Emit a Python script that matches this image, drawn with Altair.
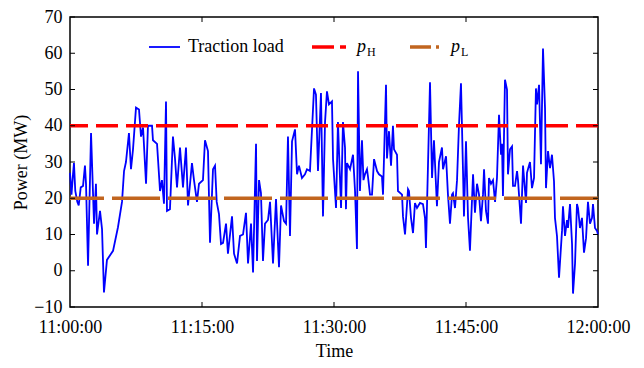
import altair as alt
import pandas as pd

# minutes after 11:00:00
minutes = [0.0, 0.17, 0.34, 0.45, 0.6, 0.83, 0.99, 1.22, 1.48, 1.7, 1.82, 2.05, 2.39, 2.73, 2.95, 3.07,
           3.41, 3.64, 3.86, 4.2, 4.89, 5.45, 5.91, 6.14, 6.36, 6.7, 6.93, 7.16, 7.5, 7.84, 8.07, 8.3,
           8.64, 8.86, 9.32, 9.43, 9.89, 10.23, 10.45, 10.68, 10.91, 11.02, 11.36, 11.7, 11.93, 12.16,
           12.5, 12.84, 13.18, 13.41, 13.86, 14.09, 14.43, 14.66, 15.11, 15.34, 15.68, 15.91, 16.25,
           16.48, 16.67, 16.93, 17.16, 17.39, 17.73, 17.95, 18.41, 18.64, 18.98, 19.32, 19.66, 20.0,
           20.23, 20.57, 20.8, 21.14, 21.25, 21.48, 21.7, 21.93, 22.16, 22.5, 22.73, 23.07, 23.41,
           23.75, 23.98, 24.32, 24.55, 24.77, 25.0, 25.23, 25.57, 25.8, 26.02, 26.36, 26.7, 26.93,
           27.27, 27.73, 27.95, 28.18, 28.52, 28.75, 28.98, 29.2, 29.43, 29.77, 29.89, 30.23, 30.45,
           30.8, 31.02, 31.25, 31.36, 31.48, 31.82, 32.16, 32.39, 32.61, 32.73, 32.95, 33.18, 33.35,
           33.52, 33.75, 33.86, 34.09, 34.32, 34.55, 34.89, 35.11, 35.45, 35.57, 35.91, 36.02, 36.25,
           36.48, 36.7, 36.82, 37.16, 37.27, 37.73, 37.84, 38.07, 38.41, 38.52, 38.75, 38.98, 39.2,
           39.43, 39.77, 40.11, 40.34, 40.45, 40.68, 40.91, 41.14, 41.36, 41.7, 41.93, 42.27, 42.39,
           42.73, 42.95, 43.18, 43.41, 43.52, 43.75, 43.98, 44.2, 44.43, 44.66, 44.77, 45.0, 45.23,
           45.45, 45.8, 46.02, 46.25, 46.48, 46.7, 46.93, 47.05, 47.27, 47.5, 47.61, 47.84, 48.07,
           48.3, 48.52, 48.75, 48.98, 49.09, 49.2, 49.43, 49.66, 49.77, 50.0, 50.23, 50.34, 50.57,
           50.8, 50.91, 51.25, 51.48, 51.82, 51.93, 52.27, 52.5, 52.73, 52.95, 53.07, 53.3, 53.52,
           53.75, 53.98, 54.09, 54.32, 54.55, 54.77, 55.0, 55.11, 55.34, 55.57, 55.91, 56.02, 56.25,
           56.48, 56.59, 56.82, 57.05, 57.16, 57.39, 57.61, 57.73, 57.95, 58.18, 58.41, 58.64, 58.86,
           59.09, 59.32, 59.43, 59.66, 59.89, 60.0]

power = [27, 21, 26.6, 29.7, 22, 19, 18, 23, 23.4, 29, 24, 1.4, 38, 13, 24, 10,
         16.5, 11.5, -6, 3, 5.5, 12, 19, 27.5, 30, 38, 28, 33.5, 45, 44.5, 37, 39.5,
         24, 40, 40, 36, 35, 22, 25, 18.5, 46.7, 16.5, 17, 37, 31, 23,
         34, 23, 34, 18, 29.7, 25, 19, 24, 25, 36, 33, 7.7, 28,
         29, 19, 15.6, 7.4, 7.7, 13, 4.7, 15, 4.7, 2, 9.6, 10, 16,
         2, 13, -0.5, 35, 2.7, 25, 21.4, 2.7, 13, 14, 19, 2, 19.8,
         1, 18, 13.7, 13, 37, 9.6, 35.7, 39, 26.6, 29, 25.6, 26.6, 28,
         27.5, 50.3, 48.6, 27.5, 49, 15, 41, 49.5, 45.9, 46.7, 30.8, 17.3, 41,
         17.3, 41, 34, 17, 29.7, 28, 32, 22, 6, 55, 22, 36, 25,
         26.6, 28, 26, 21, 21, 30.8, 27.5, 26.6, 26, 21, 51.3, 31, 38.5,
         29, 40, 33.5, 32, 22, 21, 15, 10, 22.5, 22, 14.6, 10.4, 18.7,
         17.3, 18.7, 18.4, 14.6, 6.3, 29, 52, 25.6, 36, 17.8, 30, 34, 28,
         31.6, 21, 13, 21, 21.4, 17.3, 25, 40, 51.7, 27.5, 15, 35.7, 14.6,
         5.5, 26.6, 16, 24, 21, 13.7, 21, 28, 16.5, 13, 25.6, 24, 25,
         19, 25.6, 43, 32, 35, 20.6, 52.7, 50, 26.6, 33.5, 34.3, 23.4, 23.4,
         27.5, 25, 13, 29, 18.7, 27, 30, 22.8, 25.6, 50.3, 45.9, 51.3, 29.4,
         61.3, 44.8, 22.8, 33, 28.3, 32, 24.7, 14.6, 9.6, -1.9, 11, 17.8, 9.6,
         14, 11.8, 18.4, 7.4, -6.3, 2, 18.4, 17.3, 11.8, 14.6, 5, 9, 19,
         13, 14.6, 18.4, 11.8, 11, 10]

p_H = 40
p_L = 20

x_ticks = [0, 15, 30, 45, 60]
x_tick_labels = ["11:00:00", "11:15:00", "11:30:00", "11:45:00", "12:00:00"]
y_ticks = [-10, 0, 10, 20, 30, 40, 50, 60, 70]

FONT = "Liberation Serif"
W, H = 528, 290

df = pd.DataFrame({"t": minutes, "p": power})

label_expr = "".join(f"datum.value == {v} ? '{l}' : " for v, l in zip(x_ticks, x_tick_labels)) + "''"

x_scale = alt.Scale(domain=[0, 60], nice=False, zero=False)
y_scale = alt.Scale(domain=[-10, 70], nice=False, zero=False)

x_axis = alt.Axis(values=x_ticks, labelExpr=label_expr, title="Time", grid=False, ticks=False,
                  domain=False, labelPadding=11, labelFont=FONT, labelFontSize=18, labelColor="black",
                  labelFlush=False, labelOverlap=False, titleFont=FONT, titleFontSize=18,
                  titleFontWeight="normal", titleColor="black", titleY=44, titleBaseline="middle")
y_axis = alt.Axis(values=y_ticks, title="Power (MW)", grid=False, ticks=False, domain=False,
                  labelPadding=8, labelFont=FONT, labelFontSize=18, labelColor="black",
                  labelOverlap=False, labelFlush=False, labelBound=False, titleFont=FONT, titleFontSize=18,
                  titleFontWeight="normal", titleColor="black", titleX=-49, titleY=H / 2,
                  titleBaseline="middle", titleAngle=-90, titleAlign="center")

load = alt.Chart(df).mark_line(color="#0000FF", strokeWidth=1.8).encode(
    x=alt.X("t:Q", scale=x_scale, axis=x_axis),
    y=alt.Y("p:Q", scale=y_scale, axis=y_axis),
)

high = alt.Chart(pd.DataFrame({"p": [p_H]})).mark_rule(
    color="#FF0000", strokeWidth=3.5, strokeDash=[22, 8]
).encode(y=alt.Y("p:Q", scale=y_scale, axis=y_axis))

low = alt.Chart(pd.DataFrame({"p": [p_L]})).mark_rule(
    color="#C1651F", strokeWidth=3.5, strokeDash=[48, 8], strokeDashOffset=10
).encode(y=alt.Y("p:Q", scale=y_scale, axis=y_axis))

ydf = pd.DataFrame({"p": y_ticks})
xdf = pd.DataFrame({"t": x_ticks[1:-1]})
tick_l = alt.Chart(ydf).mark_rule(color="black", strokeWidth=1).encode(
    y=alt.Y("p:Q", scale=y_scale, axis=y_axis), x=alt.value(0), x2=alt.value(5))
tick_r = alt.Chart(ydf).mark_rule(color="black", strokeWidth=1).encode(
    y=alt.Y("p:Q", scale=y_scale, axis=y_axis), x=alt.value(W - 5), x2=alt.value(W))
tick_b = alt.Chart(xdf).mark_rule(color="black", strokeWidth=1).encode(
    x=alt.X("t:Q", scale=x_scale, axis=x_axis), y=alt.value(H - 5), y2=alt.value(H))
tick_t = alt.Chart(xdf).mark_rule(color="black", strokeWidth=1).encode(
    x=alt.X("t:Q", scale=x_scale, axis=x_axis), y=alt.value(0), y2=alt.value(5))

# legend
LY = 30
leg_blue = alt.Chart().mark_rule(color="#0000FF", strokeWidth=1.8).encode(
    x=alt.value(79), x2=alt.value(110), y=alt.value(LY))
leg_red = alt.Chart().mark_rule(color="#FF0000", strokeWidth=3.5, strokeDash=[22, 6]).encode(
    x=alt.value(242), x2=alt.value(276), y=alt.value(LY))
leg_brown = alt.Chart().mark_rule(color="#C1651F", strokeWidth=3.5, strokeDash=[21, 5, 3, 5]).encode(
    x=alt.value(340), x2=alt.value(370), y=alt.value(LY))
leg_text1 = alt.Chart().mark_text(font=FONT, fontSize=18, align="left", baseline="middle",
                                  color="black", text="Traction load").encode(
    x=alt.value(118), y=alt.value(LY))
leg_p1 = alt.Chart().mark_text(font=FONT, fontSize=18, fontStyle="italic", align="left",
                               baseline="alphabetic", color="black", text="p").encode(
    x=alt.value(287), y=alt.value(LY + 5))
leg_s1 = alt.Chart().mark_text(font=FONT, fontSize=12, align="left", baseline="alphabetic",
                               color="black", text="H").encode(
    x=alt.value(297), y=alt.value(LY + 9))
leg_p2 = alt.Chart().mark_text(font=FONT, fontSize=18, fontStyle="italic", align="left",
                               baseline="alphabetic", color="black", text="p").encode(
    x=alt.value(381), y=alt.value(LY + 5))
leg_s2 = alt.Chart().mark_text(font=FONT, fontSize=12, align="left", baseline="alphabetic",
                               color="black", text="L").encode(
    x=alt.value(391), y=alt.value(LY + 9))

chart = alt.layer(
    load, high, low, tick_l, tick_r, tick_b, tick_t,
    leg_blue, leg_red, leg_brown, leg_text1, leg_p1, leg_s1, leg_p2, leg_s2
).properties(
    width=W, height=H, autosize="none", background="white",
    padding={"left": 62, "top": 9, "right": 38, "bottom": 53},
).configure_view(stroke="black", strokeWidth=1.5).configure_axis(labelOverlap=False)

chart.save("out.html", embed_options={"renderer": "svg", "actions": False})
